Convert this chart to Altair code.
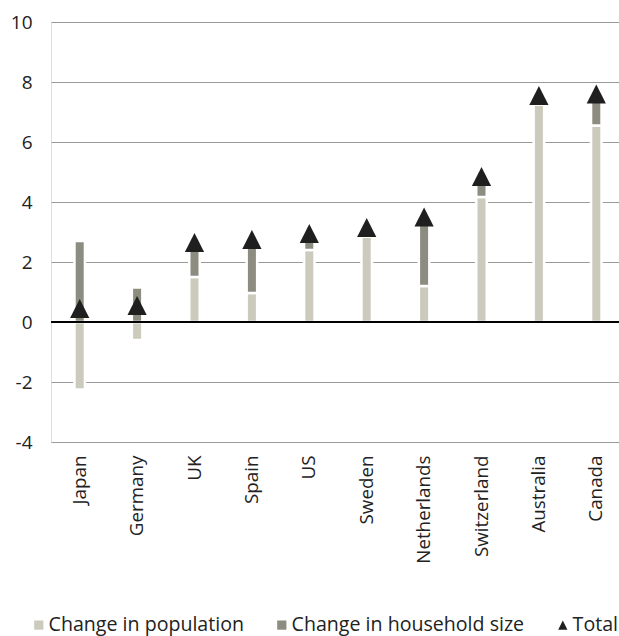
import altair as alt
import pandas as pd

# Contributions to household growth by country (percentage points)
countries = ["Japan", "Germany", "UK", "Spain", "US", "Sweden",
             "Netherlands", "Switzerland", "Australia", "Canada"]
population = [-2.25, -0.6, 1.5, 0.97, 2.4, 2.85, 1.2, 4.17, 7.25, 6.55]
household_size = [2.7, 1.15, 1.15, 1.78, 0.55, 0.3, 2.3, 0.68, 0.3, 1.05]
total = [0.45, 0.55, 2.65, 2.75, 2.95, 3.15, 3.5, 4.85, 7.55, 7.6]

series = ["Change in population", "Change in household size", "Total"]
colors = ["#cccabd", "#8c8c80", "#1f1f1f"]
tri = "M0,-1L1,1L-1,1Z"

bars = pd.DataFrame(
    [{"country": c, "series": series[0], "value": p, "ord": 0}
     for c, p in zip(countries, population)]
    + [{"country": c, "series": series[1], "value": h, "ord": 1}
       for c, h in zip(countries, household_size)]
)
totals = pd.DataFrame({"country": countries, "series": series[2], "value": total})

font = "Open Sans"

x = alt.X("country:N", sort=countries, title=None,
          scale=alt.Scale(range=[0, 574], paddingInner=0, paddingOuter=0),
          axis=alt.Axis(labelAngle=-90, ticks=False, domain=False,
                        labelPadding=13, labelFontSize=18.8, labelColor="#222222"))
y = alt.Y("value:Q", title=None, stack="zero",
          scale=alt.Scale(domain=[-4, 10], nice=False),
          axis=alt.Axis(values=list(range(-4, 11, 2)), ticks=False, domain=False,
                        grid=True, gridColor="#9a9a9a", gridWidth=1.2,
                        labelExpr="'' + datum.value",
                        labelPadding=19, labelFontSize=19, labelColor="#222222"))

color = alt.Color("series:N", title=None,
                  scale=alt.Scale(domain=series, range=colors),
                  legend=alt.Legend(orient="none", legendX=-22, legendY=593,
                                    direction="horizontal", symbolSize=85,
                                    labelFontSize=19.6, labelLimit=400,
                                    labelColor="#222222", columnPadding=28,
                                    labelOffset=0, symbolStrokeWidth=0))
shape = alt.Shape("series:N", title=None,
                  scale=alt.Scale(domain=series, range=["square", "square", tri]))

bar_layer = alt.Chart(bars).mark_bar(size=10.5, stroke="white", strokeWidth=2.5).encode(
    x=x, y=y, color=color, order=alt.Order("ord:Q")
)

zero = alt.Chart(totals).mark_rule(color="black", strokeWidth=2).encode(y=alt.datum(0))

points = alt.Chart(totals).mark_point(filled=True, size=370, opacity=1).encode(
    x=x, y=alt.Y("value:Q"), color=color, shape=shape
)

chart = alt.layer(bar_layer, zero, points).properties(
    width=568, height=420,
    autosize=alt.AutoSizeParams(type="none"),
    padding={"left": 51, "top": 22, "right": 0, "bottom": 194},
).configure_view(stroke=None).configure(font=font)

chart.save("out.html", embed_options={"renderer": "svg", "actions": False})
